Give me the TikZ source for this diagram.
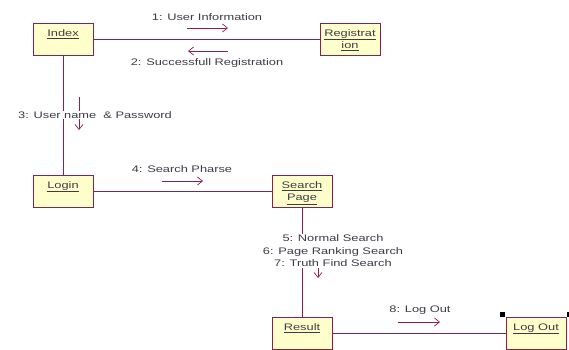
\documentclass[tikz,border=0pt]{standalone}
\usepackage{fontspec}
\setmainfont{Liberation Sans}[FakeStretch=1.35]
\usepackage{tikz}
\usetikzlibrary{arrows.meta,positioning}
\usepackage{xcolor}
\definecolor{umlline}{RGB}{140,30,80}
\definecolor{umlfill}{RGB}{255,255,204}
\definecolor{umltext}{RGB}{60,60,72}
\newcommand{\objlabel}[1]{\parbox[c][32bp][t]{60bp}{\centering\vspace*{4.5bp}\strut #1}}

\begin{document}
\begin{tikzpicture}[x=1bp,y=-1bp,on grid,>={Straight Barb[length=5bp,width=8bp]},
    font=\fontsize{9.5bp}{12.5bp}\selectfont,text=umltext]
      \tikzstyle{object}=[rectangle,draw=umlline,fill=umlfill,line width=0.8bp,inner sep=0pt,minimum width=60bp,minimum height=32bp]
      \tikzstyle{link}=[draw=umlline,line width=0.8bp]
      \tikzstyle{msg}=[->,umlline,line width=0.7bp]
      \tikzstyle{msgtext}=[inner sep=1bp,align=center]
      \useasboundingbox (0,0) rectangle (569,349);
      \node[object](index) at (63,39){\objlabel{\underline{Index}}};
      \node[object,right=287bp of index](registration){\objlabel{\underline{Registrat}\\\underline{ion}}};
      \node[object,below=152bp of index](login){\objlabel{\underline{Login}}};
      \node[object,right=239bp of login](search){\objlabel{\underline{Search}\\\underline{Page}}};
      \node[object,below=142bp of search](result){\objlabel{\underline{Result}}};
      \node[object,right=234bp of result](logout){\objlabel{\underline{Log Out}}};
      \draw[link](index)--(registration);
      \draw[link](index)--(login);
      \draw[link](login)--(search);
      \draw[link](search)--(result);
      \draw[link](result)--(logout);
      % messages
      \coordinate(m1-a) at (187,28); \coordinate(m1-b) at (228,28);
      \draw[msg](m1-a)--(m1-b);
      \node[msgtext](m1-txt) at (207,17){1: User Information};
      \coordinate(m2-a) at (228,51); \coordinate(m2-b) at (188,51);
      \draw[msg](m2-a)--(m2-b);
      \node[msgtext](m2-txt) at (207,63){2: Successfull Registration};
      \coordinate(m3-a) at (79,97); \coordinate(m3-b) at (79,130);
      \draw[msg](m3-a)--(m3-b);
      \node[msgtext,fill=white](m3-txt) at (95,115){3: User name\ \ \& Password};
      \coordinate(m4-a) at (162,181); \coordinate(m4-b) at (203,181);
      \draw[msg](m4-a)--(m4-b);
      \node[msgtext](m4-txt) at (182,169){4: Search Pharse};
      \coordinate(m5-a) at (318,243); \coordinate(m5-b) at (318,278);
      \draw[msg](m5-a)--(m5-b);
      \node[msgtext,fill=white](m5-txt) at (333,251){5: Normal Search\\6: Page Ranking Search\\7: Truth Find Search};
      \coordinate(m8-a) at (398,322); \coordinate(m8-b) at (440,322);
      \draw[msg](m8-a)--(m8-b);
      \node[msgtext](m8-txt) at (420,310){8: Log Out};
      % selection handles
      \fill[black]([shift={(-6,-5)}]logout.north west) rectangle ++(5,5);
      \fill[black]([shift={(1,-5)}]logout.north east) rectangle ++(5,5);
    \end{tikzpicture}
\end{document}
